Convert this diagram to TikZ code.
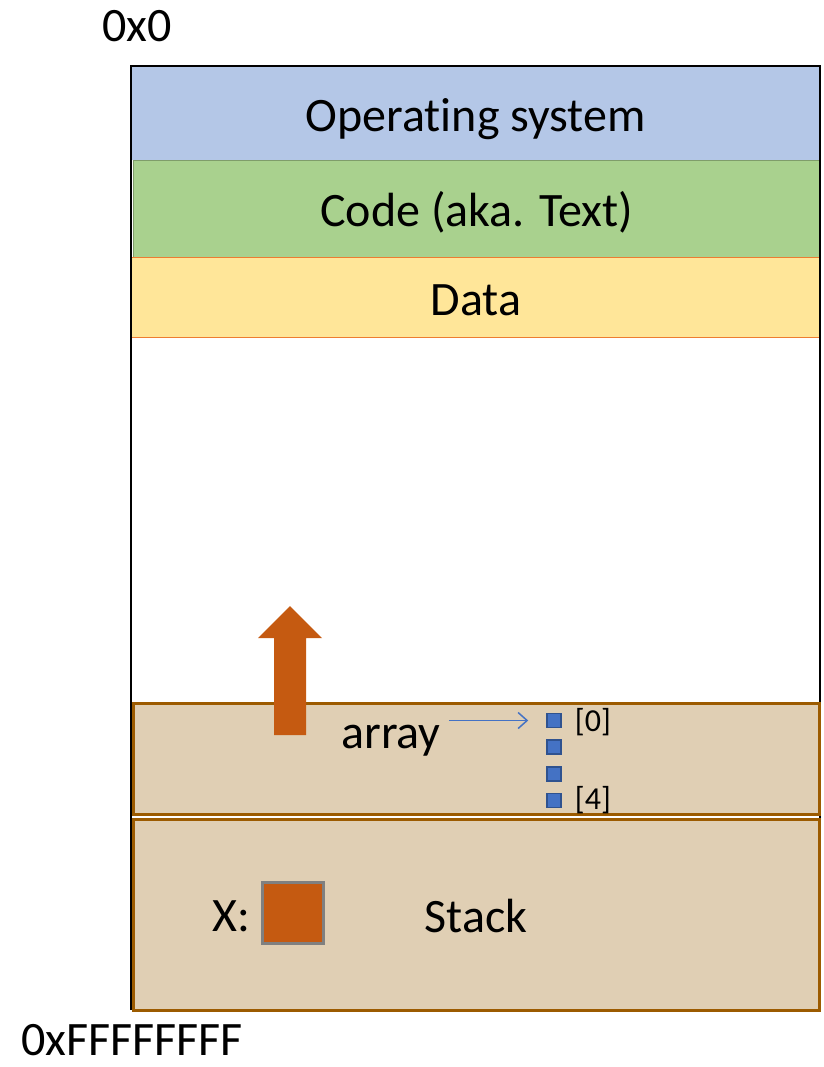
\documentclass[tikz,border=0pt]{standalone}
\usepackage{fontspec}
\setmainfont{Carlito}[Ligatures={NoCommon,NoRequired,NoContextual}]
\usepackage{xcolor}
\usepackage{tikz}
\usetikzlibrary{arrows.meta,calc,positioning}

\definecolor{osblue}{HTML}{B4C7E7}
\definecolor{codegreen}{HTML}{A9D18E}
\definecolor{datayellow}{HTML}{FFE699}
\definecolor{dataedge}{HTML}{ED7D31}
\definecolor{memtan}{HTML}{E0CFB4}
\definecolor{memedge}{HTML}{9C5B00}
\definecolor{rustorange}{HTML}{C55A11}
\definecolor{cellblue}{HTML}{4472C4}
\definecolor{celledge}{HTML}{2F528F}

\newcommand{\memfont}{\fontsize{48}{58}\selectfont}
\newcommand{\idxfont}{\fontsize{32}{38}\selectfont}

\begin{document}
\begin{tikzpicture}[x=1pt, y=-1pt,
  band/.style={anchor=north west, inner sep=0pt, minimum width=689pt,
    text height=36pt, text depth=0pt, font=\memfont},
  seg/.style={band, fill=memtan, draw=memedge, line width=2.5pt, minimum width=686pt},
  cell/.style={draw=celledge, fill=cellblue, line width=1.5pt, minimum size=14pt, inner sep=0pt},
  idx/.style={font=\idxfont, inner sep=0pt, anchor=base west},
  txt/.style={font=\memfont, inner sep=0pt, anchor=base},
  ptr/.style={-{Straight Barb[length=9pt,width=16pt]}, cellblue, line width=1.5pt}]
\useasboundingbox (0,0) rectangle (823,1067);

% アドレス
\node[txt] (low) at (137,42) {0x0};
\node[txt] (high) at (132,1055) {0xFFFFFFFF};

% 上の領域
\node[band, fill=osblue, minimum height=94pt] (os) at (131,66) {Operat\kern0pt ing system};
\node[band, fill=codegreen, draw=codegreen!75!black, line width=0.6pt,
  minimum width=687pt, minimum height=97pt] (code) at (133,160) {Code (aka. Text)};
\node[band, fill=datayellow, draw=dataedge, line width=0.8pt,
  minimum height=80pt] (data) at (131,257) {Data};

% 外枠
\draw[line width=2pt] (131,66) rectangle (820,1009);

% ヒープとスタック
\node[seg, minimum height=111pt] (heap) at (132,702) {};
\node[seg, minimum height=191pt] (stack) at (132,818) {Stack};

% 成長の矢印
\fill[rustorange] (274,735) -- (274,638) -- (258,638) -- (290,606)
  -- (322,638) -- (306,638) -- (306,735) -- cycle;

% 配列
\node[txt] (array) at (391,748) {array};
\foreach \i in {0,...,3} {
    \node[cell] (cell\i) at (554,720.5+26.7*\i) {};
}
\node[idx] (first) at ([xshift=13pt]cell0.east |- 0,731) {[0]};
\node[idx] (last) at ([xshift=13pt]cell3.east |- 0,809) {[4]};
\draw[ptr, shorten <=8pt, shorten >=18pt] (array.east |- cell0) -- (cell0.west);

% 変数 X
\node[txt] (xlabel) at (231,931) {X:};
\node[draw=gray, fill=rustorange, line width=3pt, minimum size=61pt,
  inner sep=0pt] (xbox) at (293,913) {};

\end{tikzpicture}
\end{document}
